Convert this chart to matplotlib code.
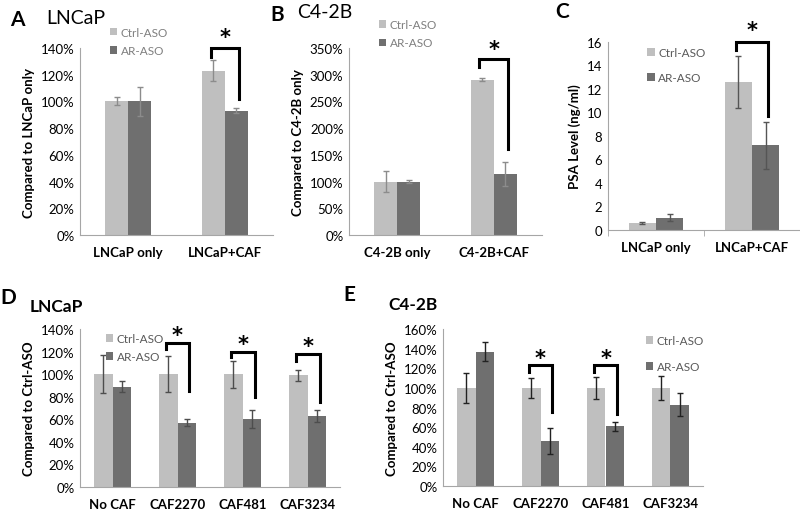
import numpy as np
from matplotlib import pyplot as plt

plt.rcParams['font.family'] = ['Lato', 'DejaVu Sans']

CTRL = '#bfbfbf'
AR = '#6f6f6f'

# panel A
a_cats = ['LNCaP only', 'LNCaP+CAF']
a_ctrl = [100, 123]
a_ctrl_err = [3, 8]
a_ar = [100, 93]
a_ar_err = [11, 2]

# panel B
b_cats = ['C4-2B only', 'C4-2B+CAF']
b_ctrl = [100, 291]
b_ctrl_err = [20, 3]
b_ar = [100, 114]
b_ar_err = [3, 22]

# panel C
c_cats = ['LNCaP only', 'LNCaP+CAF']
c_ctrl = [0.6, 12.6]
c_ctrl_err = [0.1, 2.2]
c_ar = [1.05, 7.2]
c_ar_err = [0.3, 2.0]

# panel D
d_cats = ['No CAF', 'CAF2270', 'CAF481', 'CAF3234']
d_ctrl = [100, 100, 100, 99]
d_ctrl_err = [17, 16, 12, 5]
d_ar = [89, 57, 60, 63]
d_ar_err = [4.5, 3, 8, 5]

# panel E
e_cats = ['No CAF', 'CAF2270', 'CAF481', 'CAF3234']
e_ctrl = [100, 100, 100, 100]
e_ctrl_err = [15, 10, 11, 12]
e_ar = [137, 46, 61, 83]
e_ar_err = [10, 13, 4.5, 12]

W, H = 800, 510
fig = plt.figure(figsize=(W / 100, H / 100), dpi=100)


def box(left, right, top, bottom):
    return [left / W, 1 - bottom / H, (right - left) / W, (bottom - top) / H]


def bars(ax, cats, ctrl, ctrl_err, ar, ar_err, width, ecolor):
    x = np.arange(len(cats))
    ax.bar(x - width / 2, ctrl, width, color=CTRL, label='Ctrl-ASO',
           yerr=ctrl_err, error_kw=dict(ecolor=ecolor, elinewidth=1, capsize=2.5, capthick=1))
    ax.bar(x + width / 2, ar, width, color=AR, label='AR-ASO',
           yerr=ar_err, error_kw=dict(ecolor=ecolor, elinewidth=1, capsize=2.5, capthick=1))
    ax.set_xlim(-0.5, len(cats) - 0.5)
    ax.set_xticks(x)
    ax.set_xticklabels(cats, fontweight='bold', fontsize=9.5)
    ax.tick_params(axis='x', length=0, pad=8)
    ax.tick_params(axis='y', length=0, labelsize=9.5, pad=4)
    for s in ['top', 'right']:
        ax.spines[s].set_visible(False)
    for s in ['left', 'bottom']:
        ax.spines[s].set_color('#a6a6a6')
        ax.spines[s].set_linewidth(0.8)
    return x


def bracket(ax, xl, xr, top, left_y, right_y, star_y):
    ax.plot([xl, xl, xr, xr], [left_y, top, top, right_y], color='black', lw=2.2,
            solid_joinstyle='miter', clip_on=False)
    ax.text((xl + xr) / 2, star_y, '*', ha='center', va='center', fontsize=15,
            fontweight='bold', family='DejaVu Sans', clip_on=False)


def pct(ax, vmax, step):
    ax.set_ylim(0, vmax)
    ax.set_yticks(np.arange(0, vmax + 1, step))
    ax.set_yticklabels([f'{int(v)}%' for v in np.arange(0, vmax + 1, step)])


leg = dict(frameon=False, fontsize=8.5, handlelength=0.6, handleheight=0.6,
           handletextpad=0.3)

# A
ax = fig.add_axes(box(80, 273, 49, 236))
bw = 0.24
bars(ax, a_cats, a_ctrl, a_ctrl_err, a_ar, a_ar_err, bw, '#8c8c8c')
pct(ax, 140, 20)
ax.set_ylabel('Compared to LNCaP only', fontweight='bold', fontsize=9.5)
bracket(ax, 1 - bw / 2 - 0.02, 1 + bw / 2 + 0.03, 140, 133, 102, 148)
ax.legend(loc='upper left', bbox_to_anchor=(0.1, 1.17), labelspacing=0.6,
          labelcolor='#7f7f7f', **leg)
fig.text(10 / W, 1 - 20 / H, 'A', fontsize=15, fontweight='bold', va='center')
fig.text(46 / W, 1 - 18 / H, 'LNCaP', fontsize=14, va='center')

# B
ax = fig.add_axes(box(349, 542, 49, 236))
bars(ax, b_cats, b_ctrl, b_ctrl_err, b_ar, b_ar_err, bw, '#8c8c8c')
pct(ax, 350, 50)
ax.set_ylabel('Compared to C4-2B only', fontweight='bold', fontsize=9.5)
bracket(ax, 1 - bw / 2 - 0.03, 1 + bw / 2 + 0.03, 329, 315, 161, 349)
ax.legend(loc='upper left', bbox_to_anchor=(0.1, 1.21), labelspacing=0.6,
          labelcolor='#7f7f7f', **leg)
fig.text(270 / W, 1 - 15 / H, 'B', fontsize=15, fontweight='bold', va='center')
fig.text(297 / W, 1 - 13 / H, 'C4-2B', fontsize=14, va='center')

# C
ax = fig.add_axes(box(608, 800, 43, 231))
bc = 0.285
bars(ax, c_cats, c_ctrl, c_ctrl_err, c_ar, c_ar_err, bc, '#555555')
ax.set_ylim(0, 16)
ax.set_yticks(range(0, 17, 2))
ax.set_ylabel('PSA Level (ng/ml)', fontweight='bold', fontsize=9.5)
ax.set_xticks([-0.5, 0.5, 1.5], minor=True)
ax.tick_params(axis='x', which='minor', length=4, color='#a6a6a6')
bracket(ax, 1 - bc / 2 - 0.02, 1 + bc / 2 + 0.02, 16, 15.3, 9.7, 17.0)
ax.legend(loc='upper left', bbox_to_anchor=(0.15, 1.03), labelspacing=1.2,
          labelcolor='#595959', **leg)
fig.text(555 / W, 1 - 12 / H, 'C', fontsize=15, fontweight='bold', va='center')

# D
ax = fig.add_axes(box(80, 340, 330, 488))
bd = 0.285
bars(ax, d_cats, d_ctrl, d_ctrl_err, d_ar, d_ar_err, bd, '#4d4d4d')
pct(ax, 140, 20)
ax.set_ylabel('Compared to Ctrl-ASO', fontweight='bold', fontsize=9.5)
bracket(ax, 1 - bd / 2 - 0.04, 1 + bd / 2 + 0.03, 127.5, 122, 85, 134.5)
bracket(ax, 2 - bd / 2 - 0.03, 2 + bd / 2 + 0.05, 120, 115, 80, 127)
bracket(ax, 3 - bd / 2 - 0.03, 3 + bd / 2 + 0.05, 118, 112, 75, 124.5)
ax.legend(loc='upper left', bbox_to_anchor=(0.06, 1.04), labelspacing=0.6,
          labelcolor='#595959', **leg)
fig.text(0 / W, 1 - 298 / H, 'D', fontsize=15, fontweight='bold', va='center')
fig.text(30 / W, 1 - 307 / H, 'LNCaP', fontsize=12.5, fontweight='bold', va='center')

# E
ax = fig.add_axes(box(443, 703, 330, 487))
bars(ax, e_cats, e_ctrl, e_ctrl_err, e_ar, e_ar_err, bd, '#222222')
pct(ax, 160, 20)
ax.set_ylabel('Compared to Ctrl-ASO', fontweight='bold', fontsize=9.5)
bracket(ax, 1 - bd / 2 - 0.04, 1 + bd / 2 + 0.03, 123, 116, 75, 130.5)
bracket(ax, 2 - bd / 2 - 0.03, 2 + bd / 2 + 0.04, 123, 116, 73, 130.5)
ax.legend(loc='upper left', bbox_to_anchor=(0.74, 1.03), labelspacing=1.3,
          labelcolor='#595959', **leg)
fig.text(343 / W, 1 - 295 / H, 'E', fontsize=15, fontweight='bold', va='center')
fig.text(388 / W, 1 - 305 / H, 'C4-2B', fontsize=12.5, fontweight='bold', va='center')

fig.savefig('out.png', dpi=100)
